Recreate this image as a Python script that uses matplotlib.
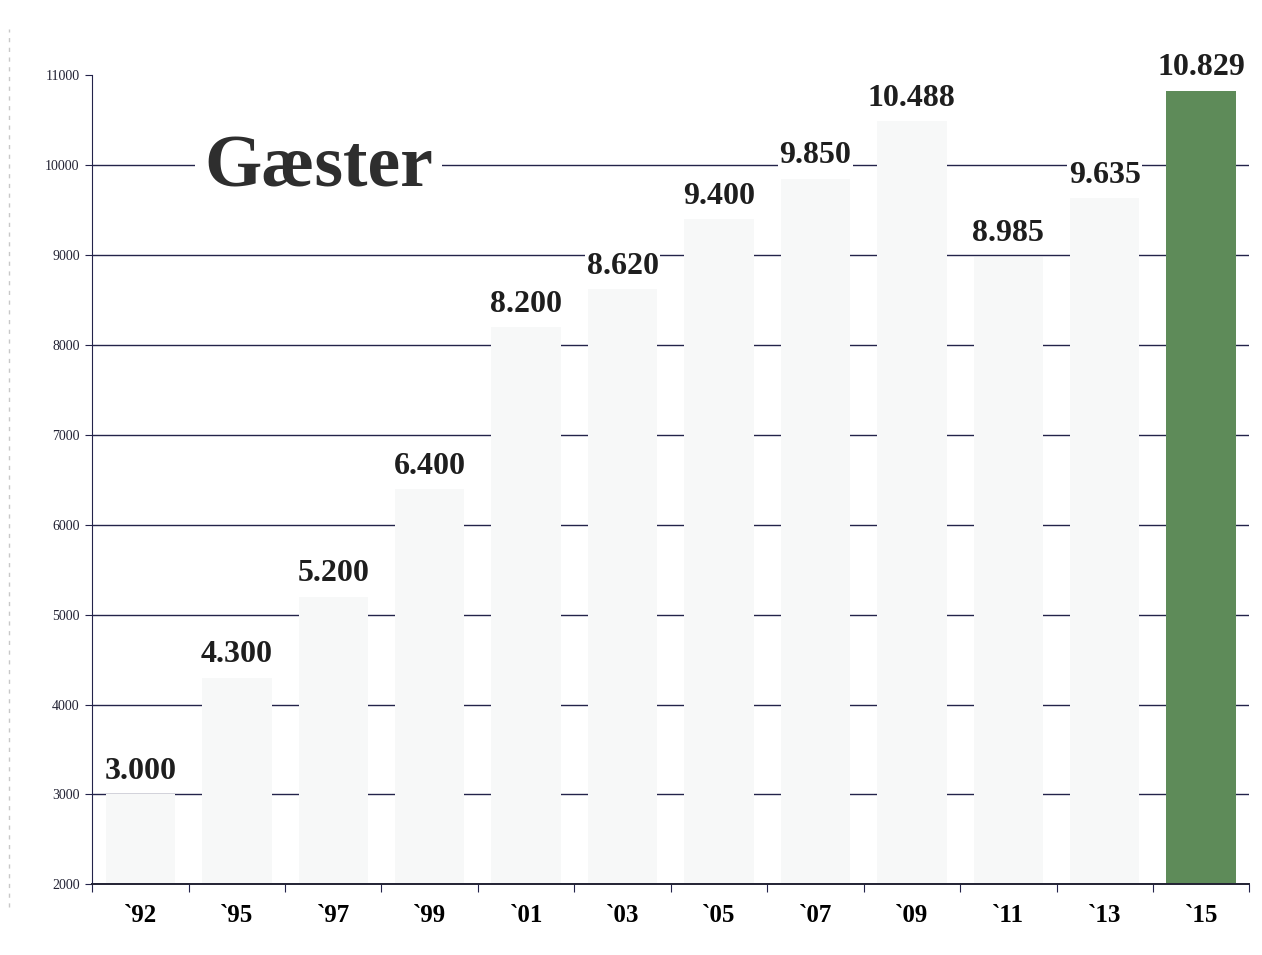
import numpy as np
import matplotlib.pyplot as plt
from matplotlib.lines import Line2D

# data
years = ['`92', '`95', '`97', '`99', '`01', '`03', '`05', '`07', '`09', '`11', '`13', '`15']
guests = [3000, 4300, 5200, 6400, 8200, 8620, 9400, 9850, 10488, 8985, 9635, 10829]
labels = ['3.000', '4.300', '5.200', '6.400', '8.200', '8.620', '9.400', '9.850',
          '10.488', '8.985', '9.635', '10.829']

serif = ['Liberation Serif', 'DejaVu Serif']
navy = '#23234a'
light = '#f7f8f8'
green = '#5e8b59'

fig = plt.figure(figsize=(12.62, 9.55), dpi=100)
ax = fig.add_axes([0.073, 0.074, 0.917, 0.847])

x = np.arange(len(years))
colors = [light] * (len(years) - 1) + [green]
ax.bar(x, guests, width=0.72, bottom=0, color=colors, zorder=2)

ax.set_ylim(2000, 11000)
ax.set_xlim(-0.5, len(years) - 0.5)
ax.set_yticks(range(2000, 11001, 1000))
ax.set_yticklabels([str(v) for v in range(2000, 11001, 1000)],
                   fontfamily=serif, fontsize=10, color='#222233')
ax.yaxis.grid(True, color=navy, linewidth=1.0, zorder=0)
ax.set_axisbelow(True)
ax.yaxis.get_gridlines()[-1].set_visible(False)  # no line at 11000

# x ticks at category boundaries, labels centered
ax.set_xticks(np.arange(-0.5, len(years)), minor=False)
ax.set_xticklabels([])
ax.set_xticks(x, minor=True)
ax.set_xticklabels(years, minor=True, fontfamily=serif, fontsize=18, fontweight='bold')
ax.tick_params(axis='x', which='minor', length=0, pad=14)
ax.tick_params(axis='x', which='major', length=6, color=navy, direction='out')
ax.tick_params(axis='y', length=5, color=navy, direction='out', pad=4)

for s in ['top', 'right']:
    ax.spines[s].set_visible(False)
ax.spines['left'].set_color(navy)
ax.spines['bottom'].set_color('#222233')
ax.spines['bottom'].set_linewidth(1.4)

for xi, v, lab in zip(x, guests, labels):
    ax.annotate(lab, (xi, v), xytext=(0, 6), textcoords='offset points',
                ha='center', va='bottom', fontfamily=serif, fontsize=23,
                fontweight='bold', color='#1e1e1e', zorder=4, annotation_clip=False,
                bbox=dict(boxstyle='square,pad=0.05', fc='white', ec='none'))

ax.text(1.85, 9970, 'Gæster', ha='center', va='center', fontfamily=serif,
        fontsize=53, fontweight='bold', color='#2e2e2e', zorder=4,
        bbox=dict(boxstyle='square,pad=0.12', fc='white', ec='none'))

# faint scan border on the left
fig.add_artist(Line2D([0.007, 0.007], [0.05, 0.97], transform=fig.transFigure,
                      color='#c8c8c8', linewidth=1, linestyle=(0, (3, 4))))

fig.savefig('out.png', dpi=100)
